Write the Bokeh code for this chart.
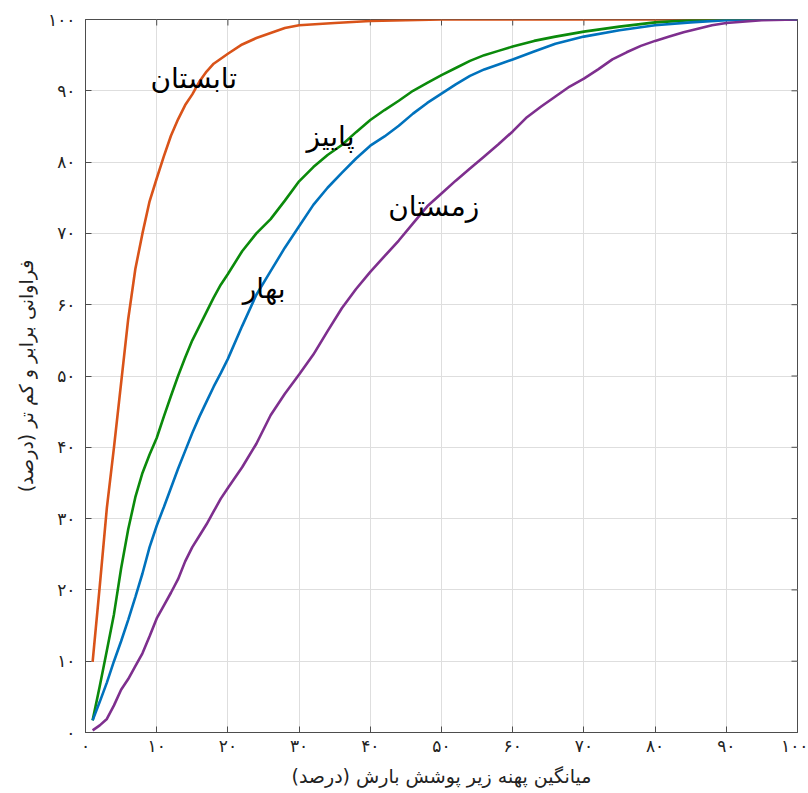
import math
from bokeh.plotting import figure
from bokeh.models import FixedTicker, Range1d, ColumnDataSource
from bokeh.core.properties import value
from bokeh.embed import file_html
from bokeh.resources import INLINE

# ---- data ----
ticks = [0, 10, 20, 30, 40, 50, 60, 70, 80, 90, 100]
tick_labels = ["۰", "۱۰", "۲۰", "۳۰", "۴۰", "۵۰", "۶۰", "۷۰", "۸۰", "۹۰", "۱۰۰"]

summer_x = [1, 2, 3, 4, 5, 6, 7, 8, 9, 10, 11, 12, 13, 14, 15, 16, 17, 18, 20, 22,
            24, 26, 28, 30, 35, 40, 45, 50, 60, 70, 80, 90, 100]
summer_y = [9.9, 20.5, 31.5, 40, 49, 58, 65, 70, 74.5, 77.7, 80.8, 83.7, 86, 88, 89.5,
            91.3, 92.7, 93.8, 95.2, 96.5, 97.4, 98.1, 98.8, 99.2, 99.5, 99.8, 99.9,
            100, 100, 100, 100, 100, 100]

autumn_x = [1, 2, 3, 4, 5, 6, 7, 8, 9, 10, 11, 12, 13, 14, 15, 16, 17, 18, 19, 20,
            22, 24, 26, 28, 30, 32, 34, 36, 38, 40, 42, 44, 46, 48, 50, 52, 54, 56,
            58, 60, 63, 66, 70, 75, 80, 85, 90, 100]
autumn_y = [1.7, 6.5, 11.5, 16.6, 23, 28.5, 33, 36.4, 39, 41.3, 44.3, 47.2, 50, 52.6,
            55, 57, 59, 61, 62.8, 64.3, 67.5, 70, 72, 74.6, 77.3, 79.3, 81, 82.4,
            84.2, 85.9, 87.3, 88.6, 90, 91.1, 92.2, 93.2, 94.2, 95, 95.6, 96.2, 97,
            97.6, 98.3, 99, 99.6, 99.9, 100, 100]

spring_x = [1, 2, 3, 4, 5, 6, 7, 8, 9, 10, 11, 12, 13, 14, 15, 16, 17, 18, 19, 20,
            22, 24, 26, 28, 30, 32, 34, 36, 38, 40, 42, 44, 46, 48, 50, 52, 54, 56,
            58, 60, 63, 66, 70, 75, 80, 85, 90, 95, 100]
spring_y = [1.7, 4.3, 7, 10, 12.8, 15.8, 19, 22.3, 26, 29, 31.6, 34.3, 37, 39.5, 42,
            44.3, 46.4, 48.5, 50.4, 52.4, 57, 61.4, 64.7, 68, 71, 74, 76.4, 78.5,
            80.5, 82.3, 83.6, 85.1, 86.8, 88.3, 89.6, 90.9, 92.1, 93, 93.7, 94.4,
            95.5, 96.6, 97.6, 98.5, 99.2, 99.6, 99.9, 100, 100]

winter_x = [1, 2, 3, 4, 5, 6, 7, 8, 9, 10, 11, 12, 13, 14, 15, 16, 17, 18, 19, 20,
            22, 24, 26, 28, 30, 32, 34, 36, 38, 40, 42, 44, 46, 48, 50, 52, 54, 56,
            58, 60, 62, 64, 66, 68, 70, 72, 74, 76, 78, 80, 82, 84, 86, 88, 90, 95, 100]
winter_y = [0.3, 1, 1.9, 3.8, 6, 7.5, 9.3, 11.1, 13.5, 16, 17.8, 19.6, 21.5, 24, 26,
            27.6, 29.2, 31, 32.8, 34.3, 37.2, 40.5, 44.5, 47.5, 50.2, 53, 56.3, 59.5,
            62.2, 64.6, 66.8, 69, 71.4, 73.8, 75.6, 77.4, 79.1, 80.8, 82.5, 84.3,
            86.3, 87.8, 89.2, 90.6, 91.7, 93, 94.4, 95.4, 96.3, 97, 97.6, 98.2, 98.7,
            99.2, 99.5, 99.9, 100]

season_names = ["تابستان", "پاییز", "بهار", "زمستان"]
label_x = [15.2, 34.4, 25.1, 48.9]
label_y = [91.7, 83.6, 62.3, 73.8]

x_title = "میانگین پهنه زیر پوشش بارش (درصد)"
y_title = "فراوانی برابر و کم تر (درصد)"

# ---- figure ----
FONT = "DejaVu Sans"
AX = "#4d4d4d"

p = figure(frame_width=712, frame_height=713,
           x_range=Range1d(0, 100), y_range=Range1d(0, 100),
           output_backend="svg", toolbar_location=None,
           min_border_left=85, min_border_right=11,
           min_border_top=19, min_border_bottom=60)
p.background_fill_color = "white"
p.outline_line_color = AX

overrides = {t: l for t, l in zip(ticks, tick_labels)}
for ax in (p.xaxis[0], p.yaxis[0]):
    ax.ticker = FixedTicker(ticks=ticks)
    ax.major_label_overrides = overrides
    ax.minor_tick_line_color = None
    ax.major_tick_in = 6
    ax.major_tick_out = 0
    ax.axis_line_color = AX
    ax.major_tick_line_color = AX
    ax.major_label_text_font = FONT
    ax.major_label_text_font_size = "17px"
    ax.major_label_text_color = "#222222"
    ax.axis_label_text_font = FONT
    ax.axis_label_text_font_size = "19px"
    ax.axis_label_text_font_style = "normal"
    ax.axis_label_text_color = "#222222"

p.xaxis[0].axis_label = x_title
p.yaxis[0].axis_label = y_title
p.xaxis[0].major_label_standoff = 3
p.yaxis[0].major_label_standoff = 10
p.xaxis[0].axis_label_standoff = 6
p.yaxis[0].axis_label_standoff = 8

p.xgrid.ticker = FixedTicker(ticks=ticks)
p.ygrid.ticker = FixedTicker(ticks=ticks)
p.grid.grid_line_color = "#dedede"
p.grid.grid_line_width = 1

# inward ticks on the top and right edges of the box (clipped to the frame)
n = len(ticks)
p.scatter(x=ticks, y=[100] * n, marker="dash", angle=math.pi / 2, size=12,
          line_color=AX, line_width=1)
p.scatter(x=[100] * n, y=ticks, marker="dash", angle=0, size=12,
          line_color=AX, line_width=1)

LW = 2.6
p.line(summer_x, summer_y, line_color="#D95319", line_width=LW)
p.line(autumn_x, autumn_y, line_color="#0B8A0B", line_width=LW)
p.line(spring_x, spring_y, line_color="#0072BD", line_width=LW)
p.line(winter_x, winter_y, line_color="#7E2F8E", line_width=LW)

src = ColumnDataSource(dict(x=label_x, y=label_y, t=season_names))
p.text(x="x", y="y", text="t", source=src, text_align="center",
       text_baseline="middle", text_font=value(FONT), text_font_size="28px",
       text_color="black")

open("out.html", "w").write(file_html(p, INLINE))
